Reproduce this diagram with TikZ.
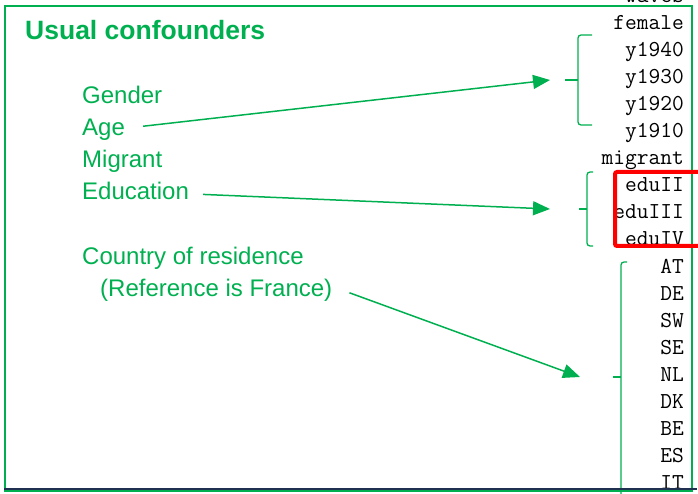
\documentclass[tikz,border=0pt]{standalone}
\usepackage{fontspec}
\setmainfont{Liberation Sans}
\usetikzlibrary{arrows.meta,positioning,calc}
\definecolor{confgreen}{RGB}{0,176,80}
\definecolor{navyline}{RGB}{31,48,80}
\definecolor{markred}{RGB}{255,0,0}

\begin{document}
\begin{tikzpicture}[
        x=1pt, y=-1pt,
        title/.style={font=\fontsize{26.5}{30}\selectfont\bfseries, text=confgreen, anchor=base west, inner sep=0pt},
        label/.style={font=\fontsize{24}{28}\selectfont, text=confgreen, anchor=base west, inner sep=0pt},
        var/.style={font=\ttfamily\fontsize{22.8}{26}\selectfont, anchor=base east, inner sep=0pt},
        brace/.style={draw=confgreen, line width=1.3pt, rounded corners=3pt},
        arrow/.style={-{Triangle[length=17pt,width=14pt]}, confgreen, line width=1.5pt}
    ]
        \useasboundingbox (0,0) rectangle (698,494);
        \clip (0,0) rectangle (698,494);

        % Frame
        \draw[confgreen, line width=1.8pt] (5,6) rectangle (692,491);

        % Title
        \node[title] (title) at (25,40) {Usual confounders};

        % Left labels
        \node[label] (gender) at (82,104) {Gender};
        \node[label] (age) at (82,136) {Age};
        \node[label] (migrant) at (82,168) {Migrant};
        \node[label] (education) at (82,200) {Education};
        \node[label] (country) at (82,264) {Country of residence};
        \node[label] (reference) at (100,296) {(Reference is France)};

        % Variable names
        \foreach \v [count=\i from 0] in {waves,female,y1940,y1930,y1920,y1910,migrant,eduII,eduIII,eduIV,AT,DE,SW,SE,NL,DK,BE,ES,IT}
            \node[var] (var\i) at (684,3+27*\i) {\v};

        % Braces
        \draw[brace] (592,35) -- (578,35) -- (578,125) -- (592,125);
        \draw[brace] (565,80) -- (578,80);
        \draw[brace] (593,172) -- (587,172) -- (587,246) -- (593,246);
        \draw[brace] (579,209) -- (587,209);
        \draw[brace] (627,262) -- (621,262) -- (621,500);
        \draw[brace] (613,377) -- (621,377);

        \coordinate (cohorts) at (550,80);
        \coordinate (edus) at (550,209);
        \coordinate (countries) at (580,377);

        % Arrows
        \draw[arrow] ([xshift=18pt,yshift=4pt]age.east) -- (cohorts);
        \draw[arrow] ([xshift=14pt,yshift=-3pt]education.east) -- (edus);
        \draw[arrow] ([xshift=17pt,yshift=-3pt]reference.east) -- (countries);

        % Highlight
        \draw[markred, line width=4pt, rounded corners=2pt] (615,172) rectangle (710,246);

        % Bottom rule
        \draw[navyline, line width=2pt] (4,489) -- (697,489);
    \end{tikzpicture}
\end{document}
